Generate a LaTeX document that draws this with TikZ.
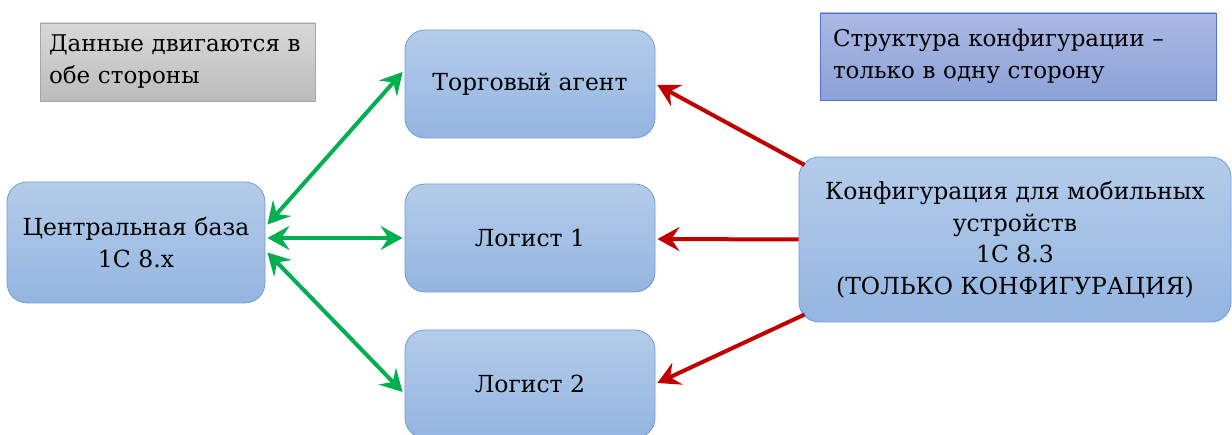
\documentclass[tikz,border=0pt]{standalone}
\usepackage{fontspec}
\setmainfont{DejaVu Serif}
\usetikzlibrary{arrows.meta,calc}
\definecolor{bluetop}{HTML}{B4CCEA}
\definecolor{bluebot}{HTML}{94B5E1}
\definecolor{blueline}{HTML}{6F9DD6}
\definecolor{purtop}{HTML}{ABB9E3}
\definecolor{purbot}{HTML}{8CA1D8}
\definecolor{purline}{HTML}{4D74C6}
\definecolor{graytop}{HTML}{D8D8D8}
\definecolor{graybot}{HTML}{BCBCBC}
\definecolor{grayline}{HTML}{A6A6A6}
\definecolor{arrgreen}{HTML}{00B050}
\definecolor{arrred}{HTML}{C00000}
\begin{document}
\begin{tikzpicture}[x=1pt,y=-1pt,
  bluebox/.style={draw=blueline, line width=0.8pt, rounded corners=20pt,
    top color=bluetop, bottom color=bluebot, align=center, inner sep=0pt,
    font=\fontsize{23.5}{31.5}\selectfont},
  notebox/.style={line width=0.8pt, align=left, inner sep=0pt, anchor=center,
    font=\fontsize{23}{32}\selectfont},
  garrow/.style={draw=arrgreen, line width=4pt,
    {Stealth[length=22pt,width=24pt,inset=8pt]}-{Stealth[length=22pt,width=24pt,inset=8pt]}},
  rarrow/.style={draw=arrred, line width=4pt,
    -{Stealth[length=22pt,width=24pt,inset=8pt]}}
]
\useasboundingbox (0,0) rectangle (1232,435);
% boxes
\node[bluebox, minimum width=250pt, minimum height=108pt] (ta) at (530,84) {Торговый агент};
\node[bluebox, minimum width=250pt, minimum height=108pt] (l1) at (530,238) {Логист 1};
\node[bluebox, minimum width=250pt, minimum height=108pt] (l2) at (530,384) {Логист 2};
\node[bluebox, minimum width=258pt, minimum height=121pt] (cb) at (136,242.5) {Центральная база\\1С 8.х};
\node[bluebox, minimum width=432pt, minimum height=165pt] (cfg) at (1015,239.5)
  {Конфигурация для мобильных\\устройств\\1С 8.3\\(ТОЛЬКО КОНФИГУРАЦИЯ)};
\node[notebox, draw=grayline, top color=graytop, bottom color=graybot,
  minimum width=275pt, minimum height=78pt, text width=257pt] (g) at (177.5,62)
  {Данные двигаются в\\обе стороны};
\node[notebox, draw=purline, top color=purtop, bottom color=purbot,
  minimum width=396pt, minimum height=87pt, text width=370pt] (p) at (1018,56.5)
  {Структура конфигурации –\\только в одну сторону};
% green arrows
\draw[garrow] ($(cb.east)+(2,-18)$) -- ($(ta.west)+(-2,-12)$);
\draw[garrow] ($(cb.east)+(2,-4.5)$) -- ($(l1.west)+(-2,0)$);
\draw[garrow] ($(cb.east)+(2,10)$) -- ($(l2.west)+(-2,8)$);
% red arrows
\draw[rarrow] ($(cfg.west)+(6,-74.5)$) -- ($(ta.east)+(2,1)$);
\draw[rarrow] (cfg.west) -- ($(l1.east)+(2,1)$);
\draw[rarrow] ($(cfg.west)+(6,75)$) -- ($(l2.east)+(2,-1)$);
\end{tikzpicture}
\end{document}
